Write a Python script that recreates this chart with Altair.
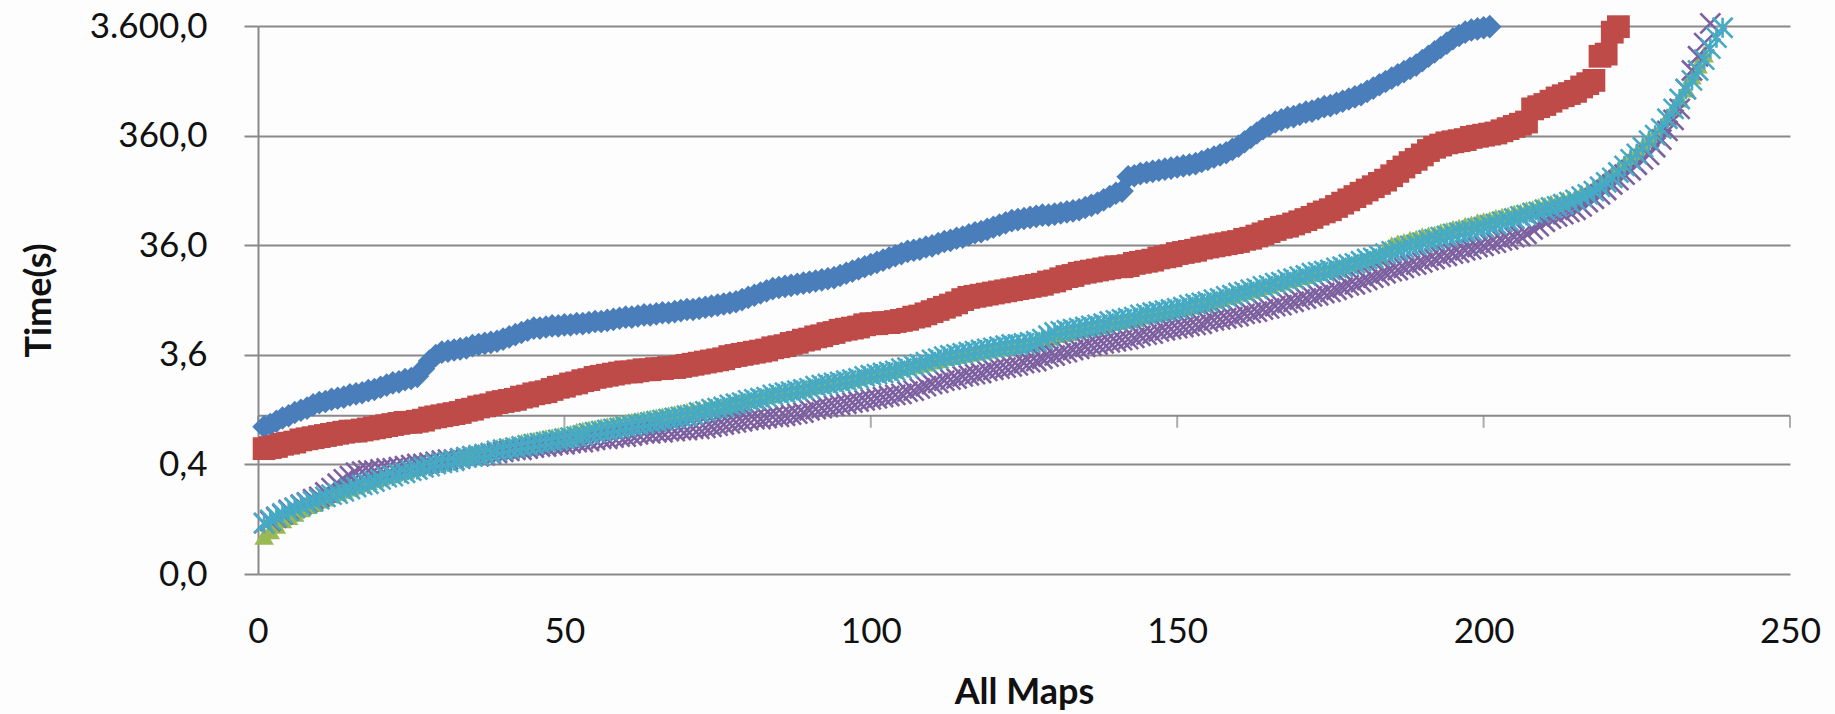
import altair as alt
import pandas as pd

# ---- axis values / labels ----
x_tick_values = [0, 50, 100, 150, 200, 250]
y_tick_values = [0.036, 0.36, 3.6, 36, 360, 3600]
x_axis_crossing = [1.0]   # Excel's horizontal axis crosses the log axis at 1

# ---- series values: log10(time in s), one value per map ----
blue_log10 = [
    -0.10, -0.08, -0.05, -0.02, 0.00, 0.03, 0.05, 0.07, 0.10, 0.12,
    0.13, 0.15, 0.16, 0.17, 0.19, 0.20, 0.21, 0.23, 0.24, 0.26,
    0.28, 0.30, 0.31, 0.33, 0.34, 0.36, 0.43, 0.50, 0.55, 0.58,
    0.59, 0.60, 0.61, 0.62, 0.64, 0.65, 0.66, 0.67, 0.68, 0.70,
    0.72, 0.74, 0.76, 0.78, 0.80, 0.80, 0.81, 0.82, 0.82, 0.83,
    0.83, 0.84, 0.84, 0.85, 0.86, 0.86, 0.87, 0.88, 0.89, 0.90,
    0.90, 0.91, 0.92, 0.92, 0.93, 0.94, 0.94, 0.95, 0.96, 0.97,
    0.97, 0.98, 0.99, 1.00, 1.01, 1.02, 1.03, 1.04, 1.06, 1.08,
    1.10, 1.12, 1.14, 1.16, 1.17, 1.18, 1.19, 1.20, 1.21, 1.22,
    1.23, 1.24, 1.25, 1.26, 1.28, 1.30, 1.32, 1.34, 1.36, 1.38,
    1.40, 1.42, 1.44, 1.46, 1.48, 1.50, 1.51, 1.52, 1.54, 1.55,
    1.57, 1.59, 1.60, 1.62, 1.63, 1.65, 1.67, 1.68, 1.70, 1.72,
    1.74, 1.76, 1.78, 1.79, 1.80, 1.81, 1.82, 1.83, 1.83, 1.84,
    1.85, 1.86, 1.87, 1.88, 1.90, 1.92, 1.94, 1.97, 2.00, 2.03,
    2.05, 2.18, 2.19, 2.21, 2.22, 2.23, 2.24, 2.25, 2.26, 2.27,
    2.28, 2.29, 2.30, 2.32, 2.34, 2.36, 2.38, 2.40, 2.43, 2.46,
    2.50, 2.54, 2.58, 2.62, 2.65, 2.68, 2.70, 2.72, 2.73, 2.75,
    2.77, 2.78, 2.80, 2.82, 2.83, 2.85, 2.87, 2.89, 2.91, 2.93,
    2.96, 2.99, 3.02, 3.05, 3.08, 3.11, 3.14, 3.17, 3.20, 3.24,
    3.28, 3.32, 3.36, 3.40, 3.44, 3.47, 3.50, 3.52, 3.53, 3.54,
    3.55,
]

red_log10 = [
    -0.30, -0.29, -0.28, -0.26, -0.25, -0.24, -0.22, -0.21, -0.20, -0.19,
    -0.18, -0.17, -0.16, -0.15, -0.14, -0.14, -0.13, -0.12, -0.11, -0.10,
    -0.09, -0.08, -0.07, -0.06, -0.06, -0.05, -0.04, -0.02, -0.01, 0.00,
    0.01, 0.02, 0.03, 0.05, 0.06, 0.08, 0.09, 0.10, 0.12, 0.13,
    0.14, 0.15, 0.17, 0.18, 0.20, 0.21, 0.22, 0.24, 0.26, 0.27,
    0.29, 0.30, 0.32, 0.33, 0.35, 0.36, 0.37, 0.38, 0.39, 0.40,
    0.40, 0.41, 0.42, 0.42, 0.43, 0.43, 0.44, 0.44, 0.45, 0.46,
    0.47, 0.48, 0.49, 0.50, 0.51, 0.52, 0.54, 0.55, 0.56, 0.57,
    0.58, 0.59, 0.60, 0.62, 0.63, 0.64, 0.66, 0.67, 0.69, 0.70,
    0.72, 0.73, 0.75, 0.76, 0.78, 0.79, 0.80, 0.81, 0.83, 0.84,
    0.84, 0.85, 0.85, 0.86, 0.87, 0.88, 0.90, 0.91, 0.93, 0.95,
    0.97, 0.99, 1.01, 1.03, 1.06, 1.08, 1.09, 1.10, 1.11, 1.12,
    1.13, 1.14, 1.15, 1.16, 1.17, 1.18, 1.19, 1.20, 1.22, 1.23,
    1.25, 1.27, 1.28, 1.30, 1.31, 1.32, 1.33, 1.34, 1.35, 1.36,
    1.36, 1.37, 1.39, 1.40, 1.41, 1.42, 1.44, 1.45, 1.46, 1.48,
    1.49, 1.50, 1.51, 1.53, 1.54, 1.55, 1.56, 1.57, 1.58, 1.59,
    1.61, 1.62, 1.64, 1.66, 1.68, 1.70, 1.72, 1.73, 1.75, 1.77,
    1.79, 1.81, 1.84, 1.86, 1.88, 1.91, 1.94, 1.97, 2.00, 2.03,
    2.06, 2.09, 2.12, 2.15, 2.19, 2.23, 2.27, 2.31, 2.34, 2.38,
    2.42, 2.45, 2.47, 2.49, 2.50, 2.51, 2.52, 2.54, 2.55, 2.56,
    2.57, 2.58, 2.60, 2.62, 2.64, 2.66, 2.68, 2.80, 2.82, 2.84,
    2.87, 2.90, 2.92, 2.94, 2.96, 3.00, 3.03, 3.06, 3.28, 3.30,
    3.50, 3.55,
]

green_log10 = [
    -1.10, -1.05, -1.00, -0.95, -0.92, -0.89, -0.85, -0.82, -0.80, -0.77,
    -0.75, -0.72, -0.70, -0.68, -0.66, -0.64, -0.62, -0.60, -0.58, -0.56,
    -0.54, -0.53, -0.51, -0.50, -0.48, -0.47, -0.45, -0.44, -0.42, -0.41,
    -0.40, -0.38, -0.37, -0.36, -0.35, -0.33, -0.32, -0.31, -0.29, -0.28,
    -0.27, -0.26, -0.24, -0.23, -0.22, -0.21, -0.20, -0.19, -0.18, -0.17,
    -0.16, -0.14, -0.13, -0.12, -0.11, -0.10, -0.09, -0.08, -0.07, -0.06,
    -0.05, -0.04, -0.03, -0.02, -0.01, 0.00, 0.01, 0.02, 0.03, 0.04,
    0.05, 0.06, 0.07, 0.08, 0.09, 0.10, 0.12, 0.13, 0.14, 0.15,
    0.16, 0.17, 0.19, 0.20, 0.21, 0.22, 0.23, 0.24, 0.25, 0.27,
    0.28, 0.29, 0.30, 0.31, 0.32, 0.33, 0.34, 0.35, 0.37, 0.38,
    0.39, 0.40, 0.41, 0.42, 0.44, 0.45, 0.46, 0.47, 0.48, 0.50,
    0.51, 0.53, 0.54, 0.55, 0.56, 0.57, 0.58, 0.59, 0.60, 0.61,
    0.62, 0.63, 0.64, 0.65, 0.66, 0.67, 0.68, 0.70, 0.72, 0.74,
    0.75, 0.76, 0.78, 0.79, 0.80, 0.81, 0.82, 0.83, 0.85, 0.86,
    0.87, 0.88, 0.89, 0.91, 0.92, 0.93, 0.94, 0.95, 0.97, 0.98,
    0.99, 1.00, 1.02, 1.03, 1.04, 1.06, 1.07, 1.09, 1.10, 1.12,
    1.13, 1.15, 1.16, 1.18, 1.19, 1.21, 1.22, 1.24, 1.25, 1.27,
    1.28, 1.30, 1.31, 1.33, 1.34, 1.36, 1.37, 1.39, 1.40, 1.42,
    1.43, 1.45, 1.46, 1.52, 1.56, 1.58, 1.59, 1.61, 1.62, 1.64,
    1.65, 1.66, 1.68, 1.69, 1.71, 1.72, 1.74, 1.75, 1.77, 1.78,
    1.79, 1.81, 1.82, 1.83, 1.85, 1.86, 1.88, 1.89, 1.91, 1.92,
    1.94, 1.95, 1.97, 1.98, 2.00, 2.03, 2.05, 2.08, 2.12, 2.17,
    2.21, 2.25, 2.30, 2.35, 2.40, 2.46, 2.52, 2.57, 2.63, 2.72,
    2.80, 2.89, 2.98, 3.10, 3.20, 3.30,
]

purple_log10 = [
    -0.98, -0.96, -0.93, -0.90, -0.86, -0.84, -0.81, -0.79, -0.76, -0.74,
    -0.70, -0.66, -0.62, -0.58, -0.55, -0.52, -0.51, -0.50, -0.50, -0.49,
    -0.48, -0.48, -0.47, -0.46, -0.45, -0.44, -0.44, -0.43, -0.42, -0.41,
    -0.40, -0.40, -0.39, -0.38, -0.37, -0.37, -0.36, -0.35, -0.34, -0.33,
    -0.32, -0.31, -0.31, -0.30, -0.29, -0.28, -0.28, -0.27, -0.26, -0.26,
    -0.25, -0.24, -0.24, -0.23, -0.22, -0.21, -0.21, -0.20, -0.19, -0.19,
    -0.18, -0.17, -0.16, -0.16, -0.15, -0.15, -0.14, -0.14, -0.13, -0.13,
    -0.12, -0.12, -0.11, -0.10, -0.09, -0.08, -0.07, -0.06, -0.05, -0.04,
    -0.03, -0.03, -0.02, -0.01, -0.01, 0.00, 0.01, 0.02, 0.03, 0.05,
    0.06, 0.07, 0.08, 0.09, 0.10, 0.11, 0.12, 0.13, 0.14, 0.15,
    0.16, 0.17, 0.18, 0.19, 0.20, 0.22, 0.23, 0.25, 0.27, 0.29,
    0.30, 0.32, 0.33, 0.34, 0.36, 0.37, 0.38, 0.39, 0.41, 0.42,
    0.43, 0.44, 0.45, 0.46, 0.48, 0.49, 0.50, 0.52, 0.54, 0.55,
    0.57, 0.58, 0.60, 0.61, 0.63, 0.64, 0.65, 0.66, 0.67, 0.68,
    0.69, 0.70, 0.71, 0.73, 0.74, 0.75, 0.77, 0.78, 0.79, 0.80,
    0.81, 0.82, 0.83, 0.84, 0.86, 0.87, 0.88, 0.89, 0.90, 0.91,
    0.93, 0.94, 0.95, 0.97, 0.98, 1.00, 1.01, 1.03, 1.04, 1.06,
    1.07, 1.09, 1.10, 1.12, 1.13, 1.15, 1.17, 1.19, 1.20, 1.22,
    1.24, 1.26, 1.28, 1.30, 1.32, 1.33, 1.35, 1.37, 1.38, 1.40,
    1.42, 1.43, 1.45, 1.46, 1.48, 1.49, 1.51, 1.52, 1.54, 1.55,
    1.57, 1.58, 1.60, 1.61, 1.63, 1.64, 1.66, 1.70, 1.73, 1.77,
    1.80, 1.82, 1.84, 1.86, 1.88, 1.91, 1.95, 1.98, 2.02, 2.06,
    2.11, 2.15, 2.20, 2.24, 2.29, 2.34, 2.38, 2.45, 2.52, 2.60,
    2.70, 2.80, 2.98, 3.15, 3.28, 3.40, 3.58,
]

cyan_log10 = [
    -0.98, -0.95, -0.92, -0.89, -0.87, -0.84, -0.82, -0.80, -0.78, -0.76,
    -0.74, -0.72, -0.71, -0.69, -0.67, -0.65, -0.63, -0.62, -0.60, -0.58,
    -0.56, -0.55, -0.53, -0.52, -0.50, -0.49, -0.47, -0.46, -0.44, -0.43,
    -0.42, -0.41, -0.39, -0.38, -0.37, -0.36, -0.35, -0.34, -0.32, -0.31,
    -0.30, -0.29, -0.28, -0.27, -0.26, -0.25, -0.24, -0.23, -0.22, -0.21,
    -0.20, -0.19, -0.18, -0.16, -0.15, -0.14, -0.13, -0.12, -0.11, -0.10,
    -0.09, -0.08, -0.07, -0.06, -0.05, -0.04, -0.03, -0.02, -0.01, 0.00,
    0.01, 0.03, 0.04, 0.06, 0.07, 0.08, 0.10, 0.11, 0.12, 0.14,
    0.15, 0.16, 0.17, 0.19, 0.20, 0.21, 0.22, 0.23, 0.24, 0.25,
    0.27, 0.28, 0.29, 0.30, 0.31, 0.32, 0.33, 0.34, 0.36, 0.37,
    0.38, 0.39, 0.40, 0.41, 0.43, 0.44, 0.46, 0.47, 0.49, 0.51,
    0.52, 0.54, 0.55, 0.56, 0.57, 0.58, 0.59, 0.60, 0.61, 0.62,
    0.63, 0.64, 0.65, 0.65, 0.66, 0.67, 0.68, 0.70, 0.73, 0.76,
    0.77, 0.78, 0.79, 0.80, 0.81, 0.82, 0.83, 0.84, 0.86, 0.87,
    0.88, 0.89, 0.90, 0.92, 0.93, 0.94, 0.95, 0.96, 0.97, 0.98,
    0.99, 1.01, 1.02, 1.03, 1.04, 1.06, 1.07, 1.09, 1.10, 1.12,
    1.13, 1.15, 1.16, 1.18, 1.19, 1.21, 1.22, 1.24, 1.25, 1.27,
    1.28, 1.30, 1.31, 1.32, 1.33, 1.35, 1.36, 1.38, 1.39, 1.41,
    1.43, 1.44, 1.46, 1.48, 1.50, 1.51, 1.53, 1.55, 1.56, 1.58,
    1.60, 1.61, 1.63, 1.64, 1.66, 1.67, 1.68, 1.69, 1.71, 1.72,
    1.74, 1.75, 1.77, 1.78, 1.80, 1.82, 1.83, 1.85, 1.86, 1.88,
    1.90, 1.91, 1.93, 1.95, 1.97, 2.00, 2.02, 2.05, 2.09, 2.13,
    2.17, 2.22, 2.28, 2.34, 2.39, 2.45, 2.51, 2.56, 2.62, 2.71,
    2.80, 2.89, 2.98, 3.06, 3.15, 3.25, 3.35, 3.45, 3.54,
]


def series_frame(log_values, name):
    return pd.DataFrame({
        "map": list(range(1, len(log_values) + 1)),
        "time": [10 ** v for v in log_values],
        "series": name,
    })


blue_df = series_frame(blue_log10, "Series 1")
red_df = series_frame(red_log10, "Series 2")
green_df = series_frame(green_log10, "Series 3")
purple_df = series_frame(purple_log10, "Series 4")
cyan_df = series_frame(cyan_log10, "Series 5")

cross_df = pd.DataFrame({"time": x_axis_crossing})
xticks_df = pd.DataFrame({"map": x_tick_values, "time": x_axis_crossing * len(x_tick_values)})

FONT = "Lato"
GRID = "#898989"
TEXT = "#111111"

label_expr = ("replace(replace(replace(format(datum.value, ',.1f'), ',', '_'), '.', ','), '_', '.')")

X = alt.X(
    "map:Q",
    scale=alt.Scale(domain=[0, 250], nice=False, zero=False),
    axis=alt.Axis(
        values=x_tick_values, title="All Maps", grid=False, domain=False,
        ticks=False, tickSize=0, labelPadding=40, labelFlush=False,
        labelOverlap=False, labelFont=FONT, labelFontSize=35, labelColor=TEXT,
        titleFont=FONT, titleFontSize=36, titleFontWeight="bold", titleColor=TEXT,
        titleX=766, titleY=129, titleBaseline="alphabetic", titleAlign="center",
    ),
)
Y = alt.Y(
    "time:Q",
    scale=alt.Scale(type="log", domain=[0.036, 3600], nice=False),
    axis=alt.Axis(
        values=y_tick_values, labelExpr=label_expr, title="Time(s)",
        grid=True, gridColor=GRID, gridWidth=2,
        domain=True, domainColor=GRID, domainWidth=2,
        ticks=True, tickColor=GRID, tickWidth=2, tickSize=14,
        labelPadding=37, labelFlush=False, labelOverlap=False,
        labelFont=FONT, labelFontSize=35, labelColor=TEXT,
        titleFont=FONT, titleFontSize=36, titleFontWeight="bold", titleColor=TEXT,
        titleAngle=270, titleX=-208, titleY=274,
        titleAlign="center", titleBaseline="alphabetic",
    ),
)

cross_rule = alt.Chart(cross_df).mark_rule(color=GRID, strokeWidth=2).encode(y=Y)
cross_ticks = alt.Chart(xticks_df).mark_tick(
    color=GRID, orient="vertical", size=12, thickness=2, yOffset=6
).encode(x=X, y=Y)

X_PATH = "M-1,-1L1,1M-1,1L1,-1"
STAR_PATH = "M-1,-1L1,1M-1,1L1,-1M0,-1L0,1"

blue = alt.Chart(blue_df).mark_point(
    shape="diamond", filled=True, size=560, color="#4a7ebb", opacity=1
).encode(x=X, y=Y)
red = alt.Chart(red_df).mark_point(
    shape="square", filled=True, size=520, color="#be4b48", opacity=1
).encode(x=X, y=Y)
green = alt.Chart(green_df).mark_point(
    shape="triangle-up", filled=True, size=380, color="#98b954", opacity=1
).encode(x=X, y=Y)
purple = alt.Chart(purple_df).mark_point(
    shape=X_PATH, filled=False, size=400, color="#7d60a0", strokeWidth=2.6, opacity=1
).encode(x=X, y=Y)
cyan = alt.Chart(cyan_df).mark_point(
    shape=STAR_PATH, filled=False, size=400, color="#46aac5", strokeWidth=2.6, opacity=1
).encode(x=X, y=Y)

chart = alt.layer(cross_rule, cross_ticks, blue, red, green, purple, cyan).properties(
    width=1532,
    height=548,
    autosize=alt.AutoSizeParams(type="none"),
    padding={"left": 258, "top": 26, "right": 45, "bottom": 140},
    background="#fdfdfd",
).configure_view(stroke=None)

chart.save("out.html", embed_options={"renderer": "svg", "actions": False})
